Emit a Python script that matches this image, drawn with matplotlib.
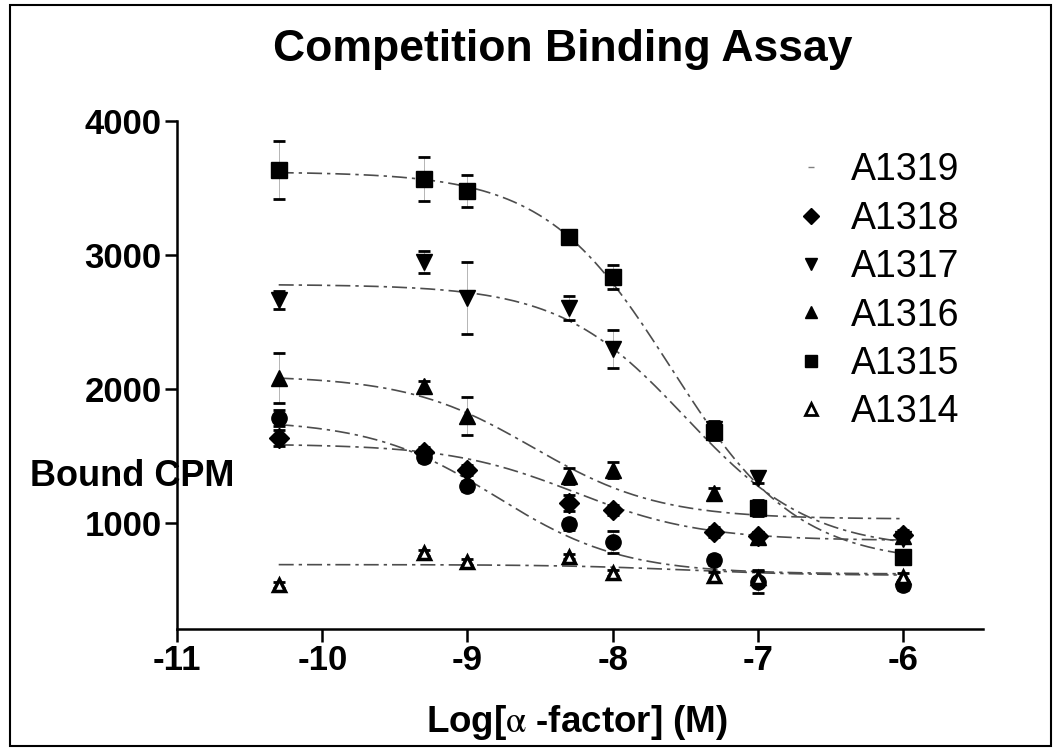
#load matplotlib.pyplot as plt
import matplotlib.pyplot as plt
from matplotlib.lines import Line2D
from matplotlib.patches import Rectangle

#load numpy as np
import numpy as np

plt.rcParams['font.family'] = ['Liberation Sans', 'DejaVu Sans']
plt.rcParams['mathtext.fontset'] = 'stix'

#log concentration of alpha-factor
log_conc = [-10.3, -9.3, -9.0, -8.3, -8.0, -7.3, -7.0, -6.0]

#series names and bound CPM
names = ['A1319', 'A1318', 'A1317', 'A1316', 'A1315', 'A1314']
cpm_a1319 = [1784, 1493, 1276, 990, 858, 724, 560, 537]
cpm_a1318 = [1634, 1530, 1395, 1150, 1097, 933, 905, 910]
cpm_a1317 = [2664, 2948, 2679, 2604, 2300, 1700, 1336, 880]
cpm_a1316 = [2082, 2022, 1799, 1350, 1396, 1224, 896, 900]
cpm_a1315 = [3634, 3567, 3478, 3134, 2836, 1679, 1112, 746]
cpm_a1314 = [537, 776, 709, 750, 627, 604, 590, 597]

#error bars
err_a1319 = [60, 40, 40, 40, 80, 40, 80, 40]
err_a1318 = [60, 40, 40, 60, 40, 40, 30, 40]
err_a1317 = [70, 85, 270, 90, 140, 60, 40, 30]
err_a1316 = [190, 40, 145, 60, 60, 40, 40, 30]
err_a1315 = [215, 165, 120, 40, 90, 60, 60, 40]
err_a1314 = [20, 20, 20, 20, 20, 30, 60, 30]

#one-site competition fit: top, bottom, logIC50
fit_top = [1770, 1590, 2780, 2100, 3620, 690]
fit_bottom = [620, 870, 800, 1030, 700, 610]
fit_logic50 = [-8.8, -8.26, -7.5, -8.55, -7.6, -7.5]

cpm = [cpm_a1319, cpm_a1318, cpm_a1317, cpm_a1316, cpm_a1315, cpm_a1314]
err = [err_a1319, err_a1318, err_a1317, err_a1316, err_a1315, err_a1314]

#marker styles
markers = ['o', 'D', 'v', '^', 's', '^']
msizes = [11, 10, 12, 12, 12, 9]
faces = ['black', 'black', 'black', 'black', 'black', 'white']

#Figure & subplot
fig = plt.figure(figsize=(10.57, 7.51), dpi=100)
ax = fig.add_axes([0.1675, 0.1625, 0.7625, 0.6765])

xfit = np.linspace(log_conc[0], log_conc[-1], 200)
for i in range(len(names)):
    yfit = fit_bottom[i] + (fit_top[i] - fit_bottom[i]) / (1 + 10 ** (xfit - fit_logic50[i]))
    ax.plot(xfit, yfit, color='0.3', linewidth=1.2, linestyle=(0, (9, 3, 2, 3)), zorder=2)
    eb = ax.errorbar(log_conc, cpm[i], yerr=err[i], fmt='none', ecolor='black',
                     elinewidth=0.5, capsize=4, capthick=2, zorder=3)
    for bl in eb[2]:
        bl.set_color('0.6')
    ax.plot(log_conc, cpm[i], linestyle='none', marker=markers[i], markersize=msizes[i],
            markerfacecolor=faces[i], markeredgecolor='black',
            markeredgewidth=2.5 if faces[i] == 'white' else 1, zorder=4)

#Set limits
ax.set_xlim(-11, -5.45)
ax.set_ylim(210, 4000)

#Set ticks
ax.set_xticks([-11, -10, -9, -8, -7, -6])
ax.set_xticklabels(['-11', '-10', '-9', '-8', '-7', '-6'])
ax.set_yticks([1000, 2000, 3000, 4000])
ax.tick_params(direction='out', length=9, width=1.8, pad=2)
for lab in ax.get_xticklabels() + ax.get_yticklabels():
    lab.set_fontweight('bold')
    lab.set_fontsize(25)

#Set spines
ax.spines['right'].set_color('none')
ax.spines['top'].set_color('none')
ax.spines['left'].set_linewidth(1.8)
ax.spines['bottom'].set_linewidth(1.8)

#Set labels
fig.text(0.532, 0.934, 'Competition Binding Assay', ha='center', va='center',
         fontsize=32, fontweight='bold')
fig.text(0.028, 0.365, 'Bound CPM', ha='left', va='center', fontsize=26, fontweight='bold')
fig.text(0.546, 0.0386, r'Log[$\mathrm{\alpha}$ -factor] (M)', ha='center', va='center',
         fontsize=26.5, fontweight='bold')

#Set legend
handles = [Line2D([], [], linestyle='none', marker='_', markersize=5, color='0.5')]
for i in range(1, len(names)):
    handles.append(Line2D([], [], linestyle='none', marker=markers[i], markersize=8,
                          markerfacecolor=faces[i], markeredgecolor='black',
                          markeredgewidth=2 if faces[i] == 'white' else 1))
ax.legend(handles, names, loc='upper left', bbox_to_anchor=(0.7315, 0.822),
          bbox_transform=fig.transFigure, frameon=False, fontsize=27,
          handlelength=1.0, handletextpad=0.56, labelspacing=0.33, borderpad=0)

#figure frame
fig.patches.append(Rectangle((0.009, 0.006), 0.985, 0.987, transform=fig.transFigure,
                             fill=False, edgecolor='black', linewidth=1.5))

fig.savefig('out.png', dpi=100)
